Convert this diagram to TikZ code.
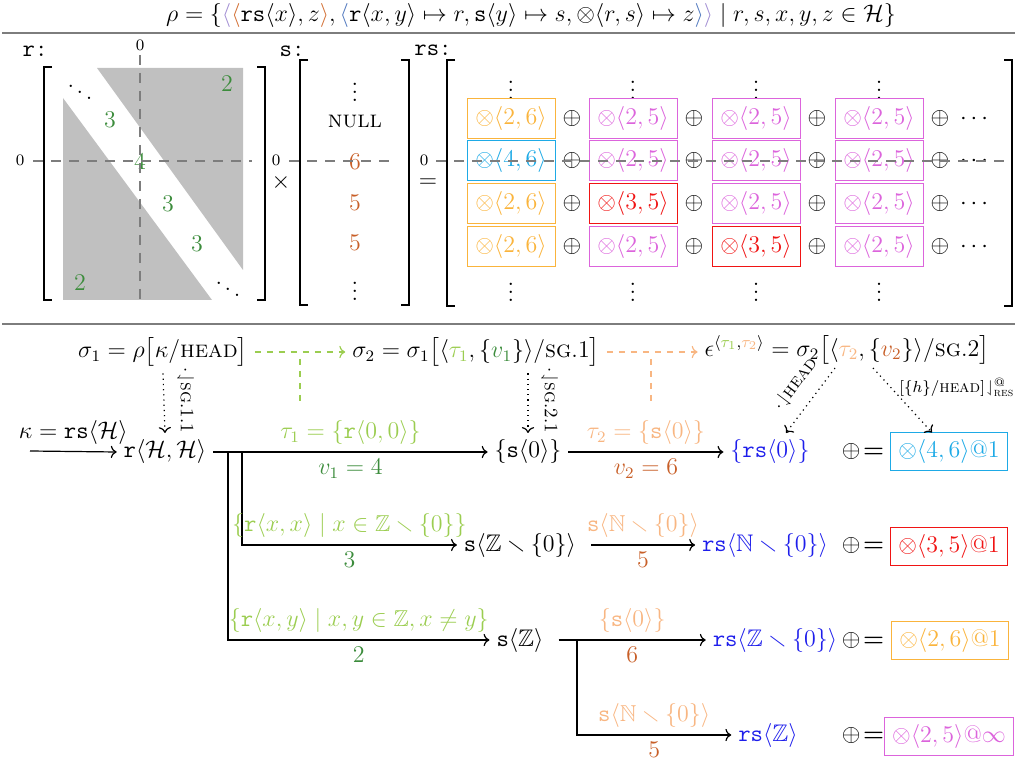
\documentclass[tikz,border=0pt]{standalone}
\usepackage{amsmath,amssymb}
\usetikzlibrary{arrows.meta}
\definecolor{lgreen}{RGB}{155,205,80}
\definecolor{dgreen}{RGB}{60,140,60}
\definecolor{peach}{RGB}{248,182,130}
\definecolor{brn}{RGB}{200,95,40}
\definecolor{tblue}{RGB}{30,30,235}
\definecolor{cyanb}{RGB}{30,170,230}
\definecolor{orangeb}{RGB}{250,180,60}
\definecolor{violetb}{RGB}{220,100,220}
\definecolor{redb}{RGB}{240,20,20}
\definecolor{lav}{RGB}{160,140,210}
\definecolor{sblue}{RGB}{80,120,190}
\definecolor{obr}{RGB}{210,110,50}
\definecolor{rulegrey}{RGB}{125,125,125}
\definecolor{greyfill}{RGB}{192,192,192}
\tikzset{
  lbl/.style={font=\fontsize{11.5}{13}\selectfont},
  cell/.style={draw=#1,text=#1,line width=0.5pt,minimum width=44pt,minimum height=20pt,inner sep=0pt},
  res/.style={draw=#1,text=#1,line width=0.5pt,minimum height=19pt,inner xsep=4pt,inner ysep=0pt},
  brk/.style={line width=1.3pt},
  axis/.style={rulegrey,line width=0.6pt,dash pattern=on 5pt off 4pt},
  ax0/.style={font=\fontsize{8}{9}\selectfont},
  conn/.style={line width=0.6pt,->},
  dotc/.style={dotted,line width=0.6pt,->},
  smalll/.style={font=\fontsize{8.5}{10}\selectfont},
  rotl/.style={font=\fontsize{9.5}{11}\selectfont},
  vd/.style={inner sep=0.5pt},
  sep/.style={rulegrey,line width=0.8pt}
}
\begin{document}
\begin{tikzpicture}[x=0.5pt,y=-0.5pt,font=\fontsize{12}{14}\selectfont]
\useasboundingbox (0,0) rectangle (1015,763);
% top formula
\node (rho) at (531,16) {$\rho = \{\textcolor{lav}{\langle}\textcolor{obr}{\langle}\mathtt{rs}\langle x\rangle, z\textcolor{obr}{\rangle}, \textcolor{sblue}{\langle}\mathtt{r}\langle x,y\rangle \mapsto r, \mathtt{s}\langle y\rangle\mapsto s, \otimes\langle r,s\rangle\mapsto z\textcolor{sblue}{\rangle}\textcolor{lav}{\rangle} \mid r,s,x,y,z\in\mathcal{H}\}$};
\draw[sep] (2,33) -- (1015,33);
\draw[sep] (2,324) -- (1015,324);
% ---------------- matrix r
\node[anchor=base] (rl) at (35,57) {\texttt{r:}};
\fill[greyfill] (97,68) -- (243,68) -- (243,270) -- cycle;
\fill[greyfill] (63,98) -- (63,300) -- (212,300) -- cycle;
\draw[brk] (52,67) -- (44,67) -- (44,300) -- (52,300);
\draw[brk] (257,67) -- (265,67) -- (265,300) -- (257,300);
\node[vd] (r1) at (80,86) {$\ddots$};
\node[text=dgreen] (r2) at (227,84) {$2$};
\node[text=dgreen] (r3) at (110,120) {$3$};
\node[text=dgreen] (r4) at (140,162) {$4$};
\node[text=dgreen] (r5) at (168,204) {$3$};
\node[text=dgreen] (r6) at (197,244) {$3$};
\node[text=dgreen] (r7) at (80,283) {$2$};
\node[vd] (r8) at (228,283) {$\ddots$};
\draw[axis] (140,55) -- (140,305);
\draw[axis] (33,161) -- (252,161);
\node[ax0] (z1) at (140,45) {$0$};
\node[ax0] (z2) at (20,160) {$0$};
% ---------------- matrix s
\node (times) at (281,183) {$\times$};
\node[anchor=base] (sl) at (292,57) {\texttt{s:}};
\draw[brk] (308,60) -- (300,60) -- (300,305) -- (308,305);
\draw[brk] (401,60) -- (409,60) -- (409,305) -- (401,305);
\node[vd] (s1) at (355,86) {$\vdots$};
\node (s2) at (355,122) {\textsc{null}};
\node[text=brn] (s3) at (355,162) {$6$};
\node[text=brn] (s4) at (355,203) {$5$};
\node[text=brn] (s5) at (355,243) {$5$};
\node[vd] (s6) at (355,285) {$\vdots$};
\draw[axis] (289,161) -- (395,161);
\node[ax0] (z3) at (276,160) {$0$};
% ---------------- matrix rs
\node (eq) at (428,183) {$=$};
\node[anchor=base] (rsl) at (433,56) {\texttt{rs:}};
\draw[brk] (455,60) -- (447,60) -- (447,306) -- (455,306);
\draw[brk] (1004,60) -- (1012,60) -- (1012,306) -- (1004,306);
\foreach \x [count=\i] in {511,633,756,879}{
  \node[vd] (vt\i) at (\x,84) {$\vdots$};
  \node[vd] (vb\i) at (\x,286) {$\vdots$};
}
\node[cell=orangeb] (c11) at (511,119) {$\otimes\langle 2,6\rangle$};
\node[cell=violetb] (c12) at (633,119) {$\otimes\langle 2,5\rangle$};
\node[cell=violetb] (c13) at (756,119) {$\otimes\langle 2,5\rangle$};
\node[cell=violetb] (c14) at (879,119) {$\otimes\langle 2,5\rangle$};
\node[cell=cyanb] (c21) at (511,161) {$\otimes\langle 4,6\rangle$};
\node[cell=violetb] (c22) at (633,161) {$\otimes\langle 2,5\rangle$};
\node[cell=violetb] (c23) at (756,161) {$\otimes\langle 2,5\rangle$};
\node[cell=violetb] (c24) at (879,161) {$\otimes\langle 2,5\rangle$};
\node[cell=orangeb] (c31) at (511,204) {$\otimes\langle 2,6\rangle$};
\node[cell=redb] (c32) at (633,204) {$\otimes\langle 3,5\rangle$};
\node[cell=violetb] (c33) at (756,204) {$\otimes\langle 2,5\rangle$};
\node[cell=violetb] (c34) at (879,204) {$\otimes\langle 2,5\rangle$};
\node[cell=orangeb] (c41) at (511,247) {$\otimes\langle 2,6\rangle$};
\node[cell=violetb] (c42) at (633,247) {$\otimes\langle 2,5\rangle$};
\node[cell=redb] (c43) at (756,247) {$\otimes\langle 3,5\rangle$};
\node[cell=violetb] (c44) at (879,247) {$\otimes\langle 2,5\rangle$};
\foreach \y [count=\j] in {119,161,204,247}{
  \foreach \x [count=\i] in {572,694,817,940}{
    \node (p\j\i) at (\x,\y) {$\oplus$};
  }
  \node (d\j) at (976,\y) {$\cdots$};
}
\draw[axis] (436,161) -- (1008,161);
\node[ax0] (z4) at (424,160) {$0$};
% ---------------- sigma line
\node (sg1) at (163,352) {$\sigma_1 = \rho\bigl[\kappa/\textsc{head}\bigr]$};
\node (sg2) at (476,352) {$\sigma_2 = \sigma_1\bigl[\langle\textcolor{lgreen}{\tau_1},\{\textcolor{dgreen}{v_1}\}\rangle/\textsc{sg}.1\bigr]$};
\node (sg3) at (847,350) {$\epsilon^{\langle\textcolor{lgreen}{\tau_1},\textcolor{peach}{\tau_2}\rangle} = \sigma_2\bigl[\langle\textcolor{peach}{\tau_2},\{\textcolor{brn}{v_2}\}\rangle/\textsc{sg}.2\bigr]$};
\draw[lgreen,dashed,line width=0.6pt,->] (sg1.east) -- (sg2.west);
\draw[peach,dashed,line width=0.6pt,->] (sg2.east) -- ([yshift=-1pt]sg3.west);
\coordinate (g1) at (300,359);
\coordinate (g2) at (300,406);
\coordinate (h1) at (651,359);
\coordinate (h2) at (651,406);
\draw[lgreen,dashed,line width=0.6pt] (g1) -- (g2);
\draw[peach,dashed,line width=0.6pt] (h1) -- (h2);
% ---------------- tree
\node (rHH) at (165,452) {$\mathtt{r}\langle\mathcal{H},\mathcal{H}\rangle$};
\node (sZero) at (528,452) {$\{\mathtt{s}\langle 0\rangle\}$};
\node (sZ0) at (520,545) {$\mathtt{s}\langle\mathbb{Z}\smallsetminus\{0\}\rangle$};
\node (sZ) at (520,640) {$\mathtt{s}\langle\mathbb{Z}\rangle$};
\node[text=tblue] (rs0) at (770,452) {$\{\mathtt{rs}\langle 0\rangle\}$};
\node[text=tblue] (rsN0) at (765,545) {$\mathtt{rs}\langle\mathbb{N}\smallsetminus\{0\}\rangle$};
\node[text=tblue] (rsZ0) at (775,640) {$\mathtt{rs}\langle\mathbb{Z}\smallsetminus\{0\}\rangle$};
\node[text=tblue] (rsZ) at (768,735) {$\mathtt{rs}\langle\mathbb{Z}\rangle$};
\foreach \y [count=\i] in {452,545,640,735}{
  \node[inner sep=1pt] (op\i) at (863,\y) {$\oplus\!\boldsymbol{=}$};
}
\node[res=cyanb] (b1) at (949,452) {$\otimes\langle 4,6\rangle$@1};
\node[res=redb] (b2) at (949,546) {$\otimes\langle 3,5\rangle$@1};
\node[res=orangeb] (b3) at (950,640) {$\otimes\langle 2,6\rangle$@1};
\node[res=violetb] (b4) at (949,736) {$\otimes\langle 2,5\rangle$@$\infty$};
\coordinate (kin) at (30,451);
\draw[conn] (kin) -- node[above,lbl] {$\kappa = \mathtt{rs}\langle\mathcal{H}\rangle$} (rHH.west);
\draw[conn] (rHH.east) -- node[above,lbl,text=lgreen] {$\tau_1 = \{\mathtt{r}\langle 0,0\rangle\}$} node[below,lbl,text=dgreen] {$v_1 = 4$} (sZero.west);
\coordinate (br1) at (242,452);
\coordinate (br2) at (228,452);
\draw[conn] (br1) |- node[pos=0.75,above,lbl,text=lgreen] {$\{\mathtt{r}\langle x,x\rangle \mid x\in\mathbb{Z}\smallsetminus\{0\}\}$} node[pos=0.75,below,lbl,text=dgreen] {$3$} (sZ0.west);
\draw[conn] (br2) |- node[pos=0.75,above,lbl,text=lgreen] {$\{\mathtt{r}\langle x,y\rangle \mid x,y\in\mathbb{Z}, x\neq y\}$} node[pos=0.75,below,lbl,text=dgreen] {$2$} (sZ.west);
\draw[conn] (sZero.east) -- node[above,lbl,text=peach] {$\tau_2 = \{\mathtt{s}\langle 0\rangle\}$} node[below,lbl,text=brn] {$v_2 = 6$} (rs0.west);
\draw[conn] ([xshift=4pt]sZ0.east) -- node[above,lbl,text=peach] {$\mathtt{s}\langle\mathbb{N}\smallsetminus\{0\}\rangle$} node[below,lbl,text=brn] {$5$} (rsN0.west);
\draw[conn] ([xshift=4pt]sZ.east) -- node[above,lbl,text=peach] {$\{\mathtt{s}\langle 0\rangle\}$} node[below,lbl,text=brn] {$6$} (rsZ0.west);
\coordinate (br3) at (577,640);
\draw[conn] (br3) |- node[pos=0.75,above,lbl,text=peach] {$\mathtt{s}\langle\mathbb{N}\smallsetminus\{0\}\rangle$} node[pos=0.75,below,lbl,text=brn] {$5$} (rsZ.west);
% dotted arrows
\draw[dotc] (sg1.south) -- node[rotl,rotate=-90,anchor=south,pos=0.45,yshift=3pt] {${\cdot}\!\downharpoonleft$\textsc{sg}.1.1} (rHH.north);
\draw[dotc] (sZero.north |- sg2.south) -- node[rotl,rotate=-90,anchor=south,pos=0.45,yshift=3pt] {${\cdot}\!\downharpoonleft$\textsc{sg}.2.1} (sZero.north);
\coordinate (e1) at (835,368);
\coordinate (e2) at (873,368);
\draw[dotc] (e1) -- node[rotl,sloped,above=3pt,pos=0.45] {${\cdot}\!\downharpoonleft$\textsc{head}} ([xshift=8pt]rs0.north);
\draw[dotc] (e2) -- node[smalll,anchor=west,pos=0.3,inner sep=1pt,xshift=3pt] {$[\{h\}/\textsc{head}]\!\downharpoonleft^{@}_{\textsc{res}}$} ([xshift=-8.5pt]b1.north);
\end{tikzpicture}
\end{document}
